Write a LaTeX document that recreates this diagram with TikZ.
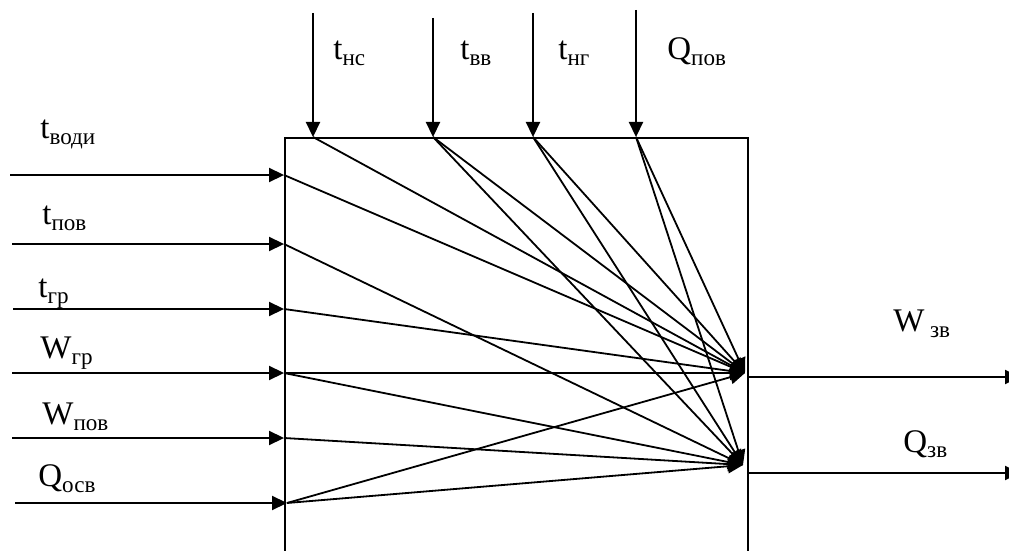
\documentclass[tikz,border=0pt]{standalone}
\usepackage{fontspec}
\setmainfont{Liberation Serif}
\usetikzlibrary{arrows.meta}

\begin{document}
\begin{tikzpicture}[x=0.5pt, y=-0.5pt,
    flow/.style={line width=1.1pt, -{Triangle[length=7.5pt, width=7pt]}},
    link/.style={line width=0.9pt, -{Triangle[length=7.5pt, width=7pt]}},
    sig/.style={font=\fontsize{16.5}{19}\selectfont, anchor=base west, inner sep=0pt},
    block/.style={draw, line width=1.1pt, rectangle, anchor=north west, inner sep=0pt, minimum width=231.5pt, minimum height=230pt},
]
\useasboundingbox (0,0) rectangle (1009,551);
\clip (0,0) rectangle (1009,551);
\node[block] (blk) at (284,137) {};
% inputs from the left
\foreach \n/\xs/\xe/\y in {1/10/284/175, 2/12/284/244, 3/13/284/309, 4/12/284/373, 5/12/284/438, 6/15/287/503} {
    \coordinate (src\n) at (\xs,\y);
    \coordinate (in\n) at (\xe,\y);
    \draw[flow] (src\n) -- (in\n);
}
% inputs from above
\foreach \n/\x/\ys in {1/313/13, 2/433/18, 3/533/13, 4/636/10} {
    \coordinate (top\n) at (\x,\ys);
    \coordinate (ent\n) at (\x,137);
    \draw[flow] (top\n) -- (ent\n);
}
% links inside the block
\coordinate (hubW) at (745,373);
\coordinate (hubQ) at (743,465);
\foreach \a in {in1, in3, in4, in6, ent1, ent2, ent3, ent4}
    \draw[link] (\a) -- (hubW);
\foreach \a in {in2, in4, in5, in6, ent2, ent3, ent4}
    \draw[link] (\a) -- (hubQ);
% outputs
\coordinate (outW) at (747,377);
\coordinate (endW) at (1020,377);
\coordinate (outQ) at (747,473);
\coordinate (endQ) at (1020,473);
\draw[flow] (outW) -- (endW);
\draw[flow] (outQ) -- (endQ);
% labels
\node[sig] (lVodi) at (40,139) {t\textsubscript{води}};
\node[sig] (lTpov) at (42,225) {t\textsubscript{пов}};
\node[sig] (lTgr)  at (38,298) {t\textsubscript{гр}};
\node[sig] (lWgr)  at (40,359) {W\textsubscript{гр}};
\node[sig] (lWpov) at (42,425) {W\textsubscript{пов}};
\node[sig] (lQosv) at (38,487) {Q\textsubscript{осв}};
\node[sig] (lTns)  at (333,60) {t\textsubscript{нс}};
\node[sig] (lTvv)  at (460,60) {t\textsubscript{вв}};
\node[sig] (lTng)  at (558,60) {t\textsubscript{нг}};
\node[sig] (lQpov) at (667,60) {Q\textsubscript{пов}};
\node[sig] (lWzv)  at (893,332) {W\,\textsubscript{зв}};
\node[sig] (lQzv)  at (903,452) {Q\textsubscript{зв}};
\end{tikzpicture}
\end{document}
